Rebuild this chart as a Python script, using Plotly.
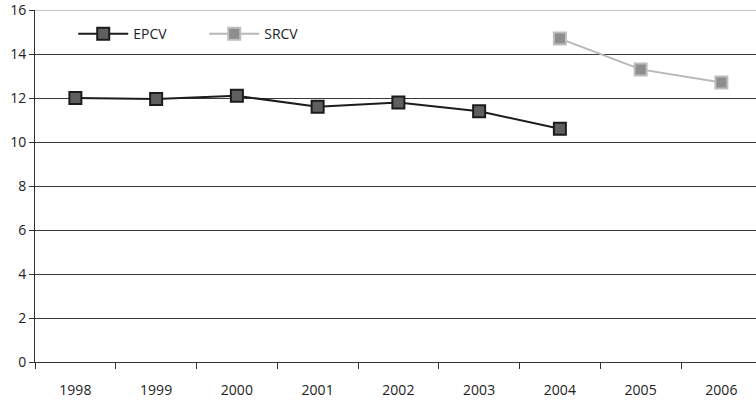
import plotly.graph_objects as go

years = [1998, 1999, 2000, 2001, 2002, 2003, 2004, 2005, 2006]
epcv_years = [1998, 1999, 2000, 2001, 2002, 2003, 2004]
epcv_values = [12.0, 11.95, 12.1, 11.6, 11.8, 11.4, 10.6]
srcv_years = [2004, 2005, 2006]
srcv_values = [14.7, 13.3, 12.7]
y_ticks = [0, 2, 4, 6, 8, 10, 12, 14, 16]

fig = go.Figure()
fig.add_trace(go.Scatter(
    x=epcv_years, y=epcv_values, name="EPCV", mode="lines+markers",
    line=dict(color="#1c1c1c", width=2),
    marker=dict(symbol="square", size=12, color="#5f5f5f",
                line=dict(color="#1c1c1c", width=2)),
))
fig.add_trace(go.Scatter(
    x=srcv_years, y=srcv_values, name="SRCV", mode="lines+markers",
    line=dict(color="#b8b8b8", width=2),
    marker=dict(symbol="square", size=12, color="#8e8e8e",
                line=dict(color="#bdbdbd", width=2)),
))

# top boundary gridline (plotly omits the grid line at the range edge)
fig.add_shape(type="line", xref="paper", x0=0, x1=1, yref="y", y0=y_ticks[-1], y1=y_ticks[-1],
              line=dict(color="#8a8a8a", width=1), layer="below")

fig.update_layout(
    width=756, height=400,
    margin=dict(l=35, r=0, t=10, b=38, autoexpand=False),
    paper_bgcolor="white", plot_bgcolor="white",
    font=dict(family="Open Sans", size=14, color="#222"),
    showlegend=True,
    legend=dict(orientation="h", x=0.053, y=0.977, xanchor="left", yanchor="top",
                bgcolor="rgba(0,0,0,0)", font=dict(size=14), itemwidth=50,
                entrywidth=66),
    xaxis=dict(
        range=[1997.5, 1997.5 + 721 / 80.75], automargin=False,
        tickvals=years, ticktext=[str(y) for y in years],
        ticks="", showgrid=False, zeroline=False,
        showline=True, linecolor="#333", linewidth=1,
        minor=dict(tickvals=[1997.5 + i for i in range(9)], ticks="outside",
                   ticklen=6, tickcolor="#333", showgrid=False),
        ticklabelstandoff=15, ticklabeloverflow="allow",
    ),
    yaxis=dict(
        range=[0, 16], tickvals=y_ticks, ticks="outside", ticklen=5,
        automargin=False, ticklabeloverflow="allow",
        tickcolor="#333", showline=True, linecolor="#333", linewidth=1,
        showgrid=True, gridcolor="#3a3a3a", gridwidth=1, zeroline=False,
    ),
)

fig.write_html("out.html", config={"displayModeBar": False},
               post_script="document.body.style.margin='0px';")
